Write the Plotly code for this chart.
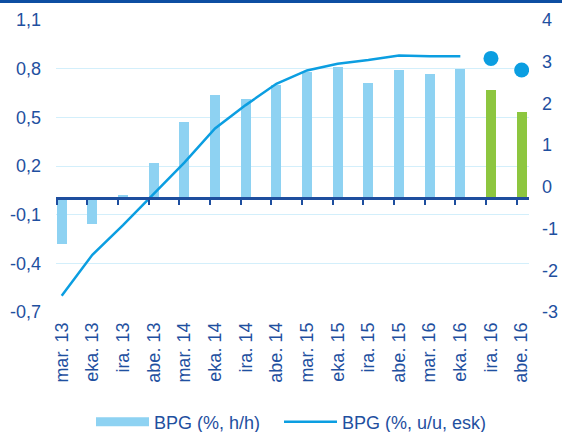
import plotly.graph_objects as go

categories = ["mar. 13", "eka. 13", "ira. 13", "abe. 13", "mar. 14", "eka. 14",
              "ira. 14", "abe. 14", "mar. 15", "eka. 15", "ira. 15", "abe. 15",
              "mar. 16", "eka. 16", "ira. 16", "abe. 16"]
bpg_qoq = [-0.28, -0.16, 0.02, 0.22, 0.47, 0.64, 0.61, 0.70, 0.78, 0.81,
           0.71, 0.79, 0.77, 0.80, 0.67, 0.53]
bpg_yoy = [-2.61, -1.63, -0.92, -0.17, 0.58, 1.40, 1.96, 2.47, 2.79, 2.95,
           3.04, 3.15, 3.13, 3.13]
bpg_yoy_forecast = [3.08, 2.80]
n_observed = 14

left_ticks = [-0.7, -0.4, -0.1, 0.2, 0.5, 0.8, 1.1]
right_ticks = [-3, -2, -1, 0, 1, 2, 3, 4]
left_ticktext = [f"{v:.1f}".replace(".", ",") for v in left_ticks]
right_ticktext = [str(v) for v in right_ticks]

name_bar = "BPG (%, h/h)"
name_line = "BPG (%, u/u, esk)"

C_BAR = "#8ED2F2"
C_GREEN = "#8DC63F"
C_LINE = "#0B9EE1"
C_TEXT = "#1F50A0"
C_AXIS = "#1E4E9E"
C_GRID = "#D3EFFB"
C_TOP = "#0D4EA2"

FONT = "Liberation Sans, Arial, sans-serif"
FS = 18

bar_colors = [C_BAR] * n_observed + [C_GREEN] * (len(categories) - n_observed)

fig = go.Figure()
fig.add_trace(go.Bar(
    x=categories, y=bpg_qoq, marker_color=bar_colors, marker_line_width=0,
    width=0.326, showlegend=False, name=name_bar, yaxis="y"))
fig.add_trace(go.Scatter(
    x=categories[:n_observed], y=bpg_yoy, mode="lines",
    line=dict(color=C_LINE, width=2.5), showlegend=False, name=name_line,
    yaxis="y2"))
fig.add_trace(go.Scatter(
    x=categories[n_observed:], y=bpg_yoy_forecast, mode="markers",
    marker=dict(color=C_LINE, size=15), showlegend=False, yaxis="y2"))
# legend entries (wide swatches like the original)
fig.add_trace(go.Scatter(
    x=[None], y=[None], mode="lines", line=dict(color=C_BAR, width=9),
    name=name_bar, xaxis="x2", yaxis="y", legend="legend"))
fig.add_trace(go.Scatter(
    x=[None], y=[None], mode="lines", line=dict(color=C_LINE, width=2.5),
    name=name_line, xaxis="x2", yaxis="y", legend="legend2"))

xr = [-0.186, 15.24]
y_rng = [-0.7, 1.1]
y2_rng = [-3, 4]
plot_w = 562 - 56 - 33

legend_common = dict(orientation="h", xanchor="left", y=-0.377,
                     yanchor="middle", itemwidth=53,
                     font=dict(size=FS, color=C_TEXT),
                     bgcolor="rgba(0,0,0,0)")

fig.update_layout(
    width=562, height=432,
    margin=dict(l=56, r=33, t=20, b=120, autoexpand=False),
    paper_bgcolor="white", plot_bgcolor="white",
    font=dict(family=FONT, size=FS, color=C_TEXT),
    bargap=0,
    xaxis=dict(type="category", range=xr, showgrid=False, showline=False,
               ticks="", tickangle=-90, ticklabelstandoff=6,
               tickfont=dict(size=FS, color=C_TEXT), zeroline=False),
    xaxis2=dict(type="linear", overlaying="x", range=xr, anchor="free",
                position=(0 - y_rng[0]) / (y_rng[1] - y_rng[0]),
                tickvals=[i - 0.163 for i in range(len(categories))],
                showticklabels=False, ticks="outside", ticklen=5, tickwidth=2,
                tickcolor=C_AXIS, showline=True, linecolor=C_AXIS,
                linewidth=2.5, showgrid=False, zeroline=False),
    yaxis=dict(range=y_rng, tickvals=left_ticks, ticktext=left_ticktext,
               showgrid=True, gridcolor=C_GRID, gridwidth=1,
               zeroline=False, showline=False, ticks="", ticklabelstandoff=14),
    yaxis2=dict(range=y2_rng, tickvals=right_ticks, ticktext=right_ticktext,
                overlaying="y", side="right",
                showgrid=False, zeroline=False, showline=False, ticks="",
                ticklabelstandoff=12),
    legend=dict(x=(91 - 56) / plot_w, **legend_common),
    legend2=dict(x=(279 - 56) / plot_w, **legend_common),
    shapes=[dict(type="line", xref="paper", yref="paper", x0=-0.2, x1=1.2,
                 y0=1.0634, y1=1.0634, line=dict(color=C_TOP, width=3))],
)

fig.write_html("out.html", config={"displayModeBar": False},
               post_script="document.body.style.margin='0';"
                           "document.body.style.overflow='hidden';")
